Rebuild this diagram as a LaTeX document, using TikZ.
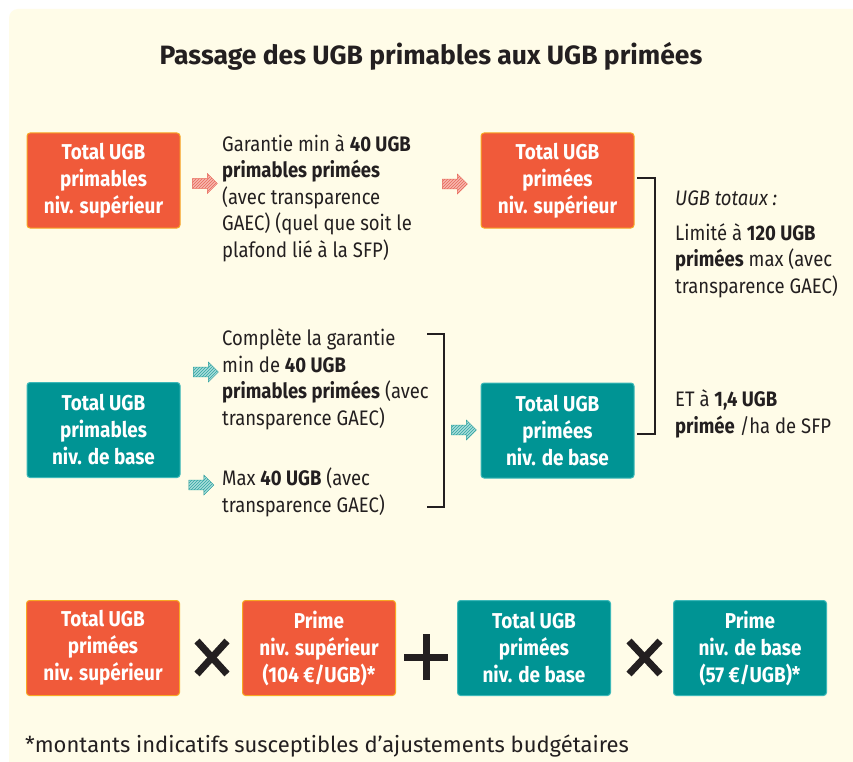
\documentclass[tikz,border=0pt]{standalone}
\usepackage{fontspec}
\setmainfont{Fira Sans}[FakeStretch=0.88]
\newfontfamily\titlefont{Fira Sans}
\newfontfamily\notefont{Fira Sans}
\usetikzlibrary{shapes.arrows, patterns}
\definecolor{fond}{HTML}{FFFCE8}
\definecolor{encre}{HTML}{231F20}
\definecolor{orangeUGB}{HTML}{F05A3A}
\definecolor{bordorange}{HTML}{F7A823}
\definecolor{tealUGB}{HTML}{009494}
\definecolor{bordteal}{HTML}{3CB8B8}
\definecolor{roseclair}{HTML}{F7B8AE}
\definecolor{rosetrait}{HTML}{E8685A}
\definecolor{tealclair}{HTML}{A8DDDA}
\definecolor{tealtrait}{HTML}{2FA5A2}

\begin{document}
\begin{tikzpicture}[x=1pt, y=-1pt,
                            boxorange/.style={rectangle, rounded corners=3pt, fill=orangeUGB, draw=bordorange, line width=1pt, minimum width=153pt, minimum height=95pt, inner sep=0pt, text=white, align=center, font=\bfseries\fontsize{21.5}{27}\selectfont},
                            boxteal/.style={boxorange, fill=tealUGB, draw=bordteal},
                            texte/.style={anchor=base west, inner sep=0pt, align=left, text=encre, font=\fontsize{21}{26.4}\selectfont},
                            flecherose/.style={single arrow, single arrow head extend=4pt, minimum height=25pt, minimum width=20pt, inner sep=3.5pt, preaction={fill=roseclair}, pattern={north east lines}, pattern color=rosetrait, draw=rosetrait, line width=0.4pt},
                            flecheteal/.style={flecherose, preaction={fill=tealclair}, pattern color=tealtrait, draw=tealtrait},
                            accolade/.style={draw=encre, line width=1.1pt},
                            signe/.style={draw=encre, line width=7pt}]
                            \useasboundingbox (0, 0) rectangle (853, 762);
                            \fill[white] (0, 0) rectangle (853, 762);
                            \fill[fond, rounded corners=9pt] (9, 9) rectangle (880, 790);

                            \node (titre)[anchor=base, inner sep=0pt, text=encre, font=\titlefont\bfseries\fontsize{26.5}{30}\selectfont] at (431, 65) {Passage des UGB primables aux UGB primées};

                            \node (A)[boxorange] at (103.5, 180.5) {Total UGB\\primables\\niv. supérieur};
                            \node (B)[boxteal] at (103.5, 430) {Total UGB\\primables\\niv. de base};
                            \node (C)[boxorange] at (557.5, 180.5) {Total UGB\\primées\\niv. supérieur};
                            \node (D)[boxteal] at (557.5, 430.5) {Total UGB\\primées\\niv. de base};

                            \node (t1)[texte] at (222, 257) {Garantie min à \textbf{40 UGB}\\\textbf{primables primées}\\(avec transparence\\GAEC) (quel que soit le\\plafond lié à la SFP)};
                            \node (t2)[texte] at (222, 425) {Complète la garantie\\min de \textbf{40 UGB}\\\textbf{primables primées} (avec\\transparence GAEC)};
                            \node (t3)[texte] at (222, 512) {Max \textbf{40 UGB} (avec\\transparence GAEC)};
                            \node (t4)[texte] at (675, 205) {\itshape UGB totaux :};
                            \node (t5)[texte] at (675, 293) {Limité à \textbf{120 UGB}\\\textbf{primées} max (avec\\transparence GAEC)};
                            \node (t6)[texte] at (675, 433) {ET à \textbf{1,4 UGB}\\\textbf{primée} /ha de SFP};

                            \node (f1)[flecherose] at (202.5, 183.5) {};
                            \node (f2)[flecherose] at (452.5, 184) {};
                            \node (f3)[flecheteal] at (203.5, 372) {};
                            \node (f4)[flecheteal] at (199, 485) {};
                            \node (f5)[flecheteal] at (461.5, 430) {};

                            \coordinate (a1) at (427, 334);
                            \coordinate (a2) at (444, 334);
                            \coordinate (a3) at (444, 507);
                            \coordinate (a4) at (427, 507);
                            \coordinate (b1) at (637, 178);
                            \coordinate (b2) at (655, 178);
                            \coordinate (b3) at (655, 434);
                            \coordinate (b4) at (637, 434);
                            \draw [accolade] (a1) -- (a2) -- (a3) -- (a4);
                            \draw [accolade] (b1) -- (b2) -- (b3) -- (b4);

                            \node (E)[boxorange] at (103, 648) {Total UGB\\primées\\niv. supérieur};
                            \node (F)[boxorange] at (319, 648) {Prime\\niv. supérieur\\(104 €/UGB)*};
                            \node (G)[boxteal] at (534, 648) {Total UGB\\primées\\niv. de base};
                            \node (H)[boxteal] at (750, 648) {Prime\\niv. de base\\(57 €/UGB)*};

                            \draw [signe] (197, 641) -- (227, 674);
                            \draw [signe] (197, 674) -- (227, 641);
                            \draw [signe] (404, 657) -- (448, 657);
                            \draw [signe] (426, 634) -- (426, 680);
                            \draw [signe] (629, 641) -- (660, 674);
                            \draw [signe] (629, 674) -- (660, 641);

                            \node (note)[anchor=base west, inner sep=0pt, text=encre, font=\notefont\fontsize{22}{26}\selectfont] at (25, 752) {*montants indicatifs susceptibles d’ajustements budgétaires};
                        \end{tikzpicture}
\end{document}
